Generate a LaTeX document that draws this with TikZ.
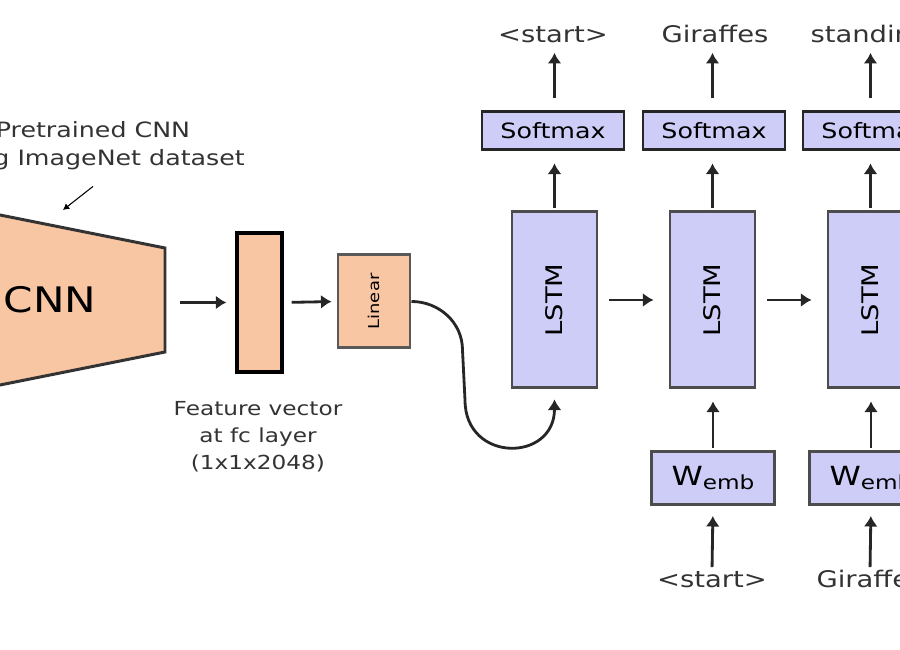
\documentclass[tikz,border=0pt]{standalone}
\usepackage{fontspec}
\setmainfont[FakeStretch=1.2]{DejaVu Sans}
\usetikzlibrary{arrows.meta,positioning}
\definecolor{peach}{HTML}{F9C6A4}
\definecolor{lavender}{HTML}{CDCDF7}
\newcommand{\wemb}{{\fontsize{15}{18}\selectfont W}\raisebox{-0.5ex}{\fontsize{11}{13}\selectfont emb}}
\newcommand{\lstmtext}{\rotatebox{90}{\fontsize{13}{15}\selectfont LSTM}}

\begin{document}
\begin{tikzpicture}[
    arr/.style={-{Latex[length=6pt,width=8pt]}, line width=1.6pt, black!85},
    orangebox/.style={draw=black!80, line width=1.7pt, fill=peach, inner sep=0pt},
    bluebox/.style={draw=black!70, line width=1.7pt, fill=lavender, inner sep=0pt},
    lbl/.style={inner sep=0pt, text=black!80, font=\fontsize{13}{15}\selectfont, text height=1.6ex, text depth=0.4ex}
  ]
  \useasboundingbox (0,0) rectangle (18,13);
  \clip (0,0) rectangle (18,13);

  \draw[orangebox] (-1.5,9.0) -- (3.3,8.04) -- (3.3,5.96) -- (-1.5,5.0) -- cycle;
  \node (cnn) at (1.0,7.0) {\fontsize{20}{24}\selectfont CNN};
  \coordinate (cnnout) at (3.3,6.95);
  \coordinate (cnntop) at (1.26,8.8);
  \node (pre) [align=center, text=black!80, font=\fontsize{12}{16}\selectfont] at (1.86,10.08) {Pretrained CNN\\using ImageNet dataset};
  \draw[-{Latex[length=3.5pt,width=4pt]}, semithick] ([shift={(0,-0.2)}]pre.south) -- (cnntop);

  \node (feat) [orangebox, draw=black, line width=1.9pt, minimum width=0.9cm, minimum height=2.78cm] at (5.19,6.95) {};
  \node (featlbl) [align=center, text=black!80, font=\fontsize{11}{15.3}\selectfont] at (5.16,4.26) {Feature vector\\at fc layer\\(1x1x2048)};
  \node (lin) [orangebox, draw=black!65, minimum width=1.44cm, minimum height=1.86cm] at (7.48,6.97) {\rotatebox{90}{\fontsize{8.5}{10}\selectfont Linear}};

  \draw[arr, shorten <=0.3cm, shorten >=0.18cm] (cnnout) -- (feat.west);
  \draw[arr, shorten <=0.16cm, shorten >=0.1cm] (feat.east) -- (lin.west);

  \node (lstm1) [bluebox, minimum width=1.7cm, minimum height=3.52cm] at (11.09,7.0) {\lstmtext};
  \node (lstm2) [bluebox, minimum width=1.7cm, minimum height=3.52cm] at (14.25,7.0) {\lstmtext};
  \node (lstm3) [bluebox, minimum width=1.7cm, minimum height=3.52cm] at (17.41,7.0) {\lstmtext};

  \node (soft1) [bluebox, draw=black!85, minimum width=2.84cm, minimum height=0.76cm, font=\fontsize{12}{14}\selectfont] at (11.06,10.38) {Softmax};
  \node (soft2) [bluebox, draw=black!85, minimum width=2.84cm, minimum height=0.76cm, font=\fontsize{12}{14}\selectfont] at (14.28,10.38) {Softmax};
  \node (soft3) [bluebox, draw=black!85, minimum width=2.84cm, minimum height=0.76cm, font=\fontsize{12}{14}\selectfont] at (17.48,10.38) {Softmax};

  \node (out1) [lbl] at (11.06,12.26) {<start>};
  \node (out2) [lbl] at (14.3,12.26) {Giraffes};
  \node (out3) [lbl] at (17.4,12.26) {standing};

  \node (emb2) [bluebox, minimum width=2.46cm, minimum height=1.06cm] at (14.26,3.44) {\wemb};
  \node (emb3) [bluebox, minimum width=2.46cm, minimum height=1.06cm] at (17.42,3.44) {\wemb};

  \node (in2) [lbl] at (14.24,1.36) {<start>};
  \node (in3) [lbl] at (17.4,1.36) {Giraffes};

  \draw[arr] (lin.east) to[out=0,in=90] (9.25,6.0) -- (9.3,5.0) to[out=-90,in=-90,looseness=1.8] ([yshift=-0.2cm]lstm1.south);

  \draw[arr, shorten <=0.22cm, shorten >=0.3cm] (lstm1.east) -- (lstm2.west);
  \draw[arr, shorten <=0.22cm, shorten >=0.3cm] (lstm2.east) -- (lstm3.west);

  \draw[arr, shorten <=0.04cm, shorten >=0.24cm] (lstm1.north) -- (lstm1.north |- soft1.south);
  \draw[arr, shorten <=0.04cm, shorten >=0.24cm] (lstm2.north) -- (lstm2.north |- soft2.south);
  \draw[arr, shorten <=0.04cm, shorten >=0.24cm] (lstm3.north) -- (lstm3.north |- soft3.south);

  \draw[arr, shorten <=0.24cm, shorten >=0.12cm] (lstm1.north |- soft1.north) -- (lstm1.north |- out1.south);
  \draw[arr, shorten <=0.24cm, shorten >=0.12cm] (lstm2.north |- soft2.north) -- (lstm2.north |- out2.south);
  \draw[arr, shorten <=0.24cm, shorten >=0.12cm] (lstm3.north |- soft3.north) -- (lstm3.north |- out3.south);

  \draw[arr, shorten <=0.04cm, shorten >=0.24cm] (emb2.north) -- (emb2.north |- lstm2.south);
  \draw[arr, shorten <=0.04cm, shorten >=0.24cm] (emb3.north) -- (emb3.north |- lstm3.south);

  \draw[arr, shorten <=0.1cm, shorten >=0.2cm] (in2.north) -- (emb2.south);
  \draw[arr, shorten <=0.1cm, shorten >=0.2cm] (in3.north) -- (emb3.south);
\end{tikzpicture}
\end{document}
